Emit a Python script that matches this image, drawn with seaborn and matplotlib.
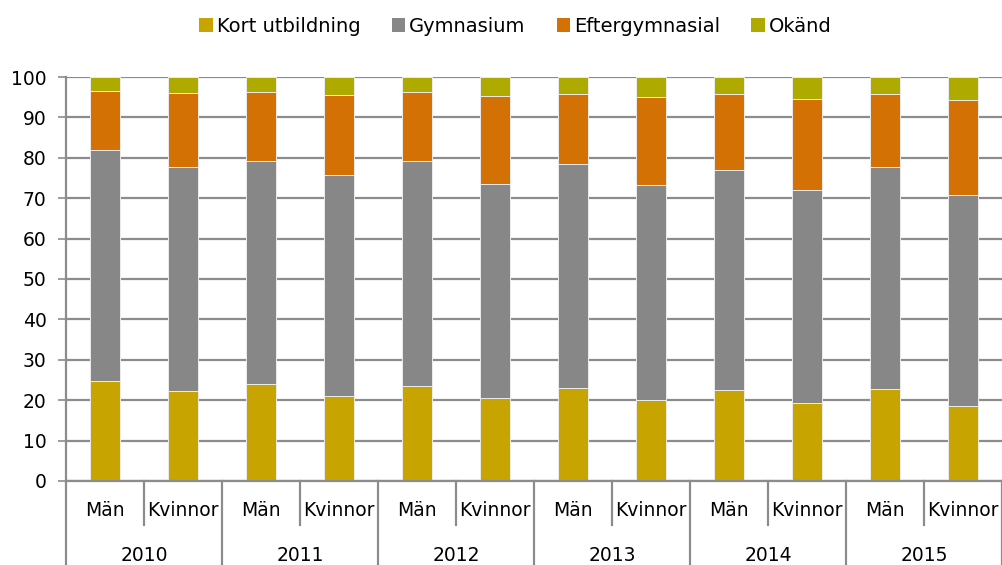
import numpy as np
import pandas as pd
import matplotlib.pyplot as plt
import seaborn as sns
from matplotlib.patches import Patch
from matplotlib.transforms import blended_transform_factory


####
#   Data (percent of each group)
####
years = ['2010', '2011', '2012', '2013', '2014', '2015']
sexes = ['Män', 'Kvinnor']
series = ['Kort utbildning', 'Gymnasium', 'Eftergymnasial', 'Okänd']
colors = ['#C8A400', '#878787', '#D37104', '#AEAA00']

kort = [24.7, 22.3, 24.0, 21.0, 23.4, 20.6, 22.9, 20.1, 22.6, 19.2, 22.7, 18.5]
gymnasium = [57.2, 55.3, 55.2, 54.7, 55.7, 53.0, 55.6, 53.2, 54.5, 52.8, 54.9, 52.2]
eftergymnasial = [14.7, 18.5, 17.2, 19.9, 17.1, 21.8, 17.4, 21.8, 18.6, 22.6, 18.1, 23.5]
okand = [3.4, 3.9, 3.6, 4.4, 3.8, 4.6, 4.1, 4.9, 4.3, 5.4, 4.3, 5.8]

groups = [y + ' ' + s for y in years for s in sexes]
df = pd.DataFrame({'grupp': groups, 'Kort utbildning': kort, 'Gymnasium': gymnasium,
                   'Eftergymnasial': eftergymnasial, 'Okänd': okand})
cum = df[series].cumsum(axis=1)

FS = 13.5
plt.rcParams['font.family'] = ['DejaVu Sans']
fig = plt.figure(figsize=(10.03, 5.65), dpi=100)
ax = fig.add_axes([0.0658, 0.1487, 0.9332, 0.715])

# stacked bars: draw the cumulative totals, tallest first
for name, c in reversed(list(zip(series, colors))):
    sns.barplot(x=df['grupp'], y=cum[name], order=groups, color=c, saturation=1,
                width=0.39, edgecolor='#ececec', linewidth=0.7, ax=ax)

ax.set_ylim(0, 100)
ax.set_xlim(-0.5, len(groups) - 0.5)
ax.set_yticks(np.arange(0, 101, 10))
ax.yaxis.grid(True, color='#8c8c8c', linewidth=1.6)
ax.set_axisbelow(True)
ax.tick_params(axis='y', labelsize=FS, length=6, width=1.2, color='#8c8c8c', pad=8)
ax.set_xticks([])
ax.set_xlabel('')
ax.set_ylabel('')
for s in ['top', 'right']:
    ax.spines[s].set_visible(False)
for s in ['left', 'bottom']:
    ax.spines[s].set_color('#8c8c8c')
    ax.spines[s].set_linewidth(1.6)

###
#   Two-level category axis
###
tr = blended_transform_factory(ax.transData, ax.transAxes)
for i, g in enumerate(groups):
    ax.text(i, -0.074, g.split(' ')[1], transform=tr, ha='center', va='center', fontsize=FS)
for j, y in enumerate(years):
    ax.text(2 * j + 0.5, -0.185, y, transform=tr, ha='center', va='center', fontsize=FS)
for k in range(len(groups) + 1):
    low = -0.21 if k % 2 == 0 else -0.109
    ax.plot([k - 0.5, k - 0.5], [0, low], transform=tr, color='#8c8c8c', lw=1.6, clip_on=False)

handles = [Patch(facecolor=c, label=n) for n, c in zip(series, colors)]
fig.legend(handles=handles, loc='center', bbox_to_anchor=(0.514, 0.953), ncol=4, frameon=False,
           fontsize=14, handlelength=0.7, handleheight=0.7, handletextpad=0.2, columnspacing=1.6)

fig.savefig('out.png', dpi=100)
